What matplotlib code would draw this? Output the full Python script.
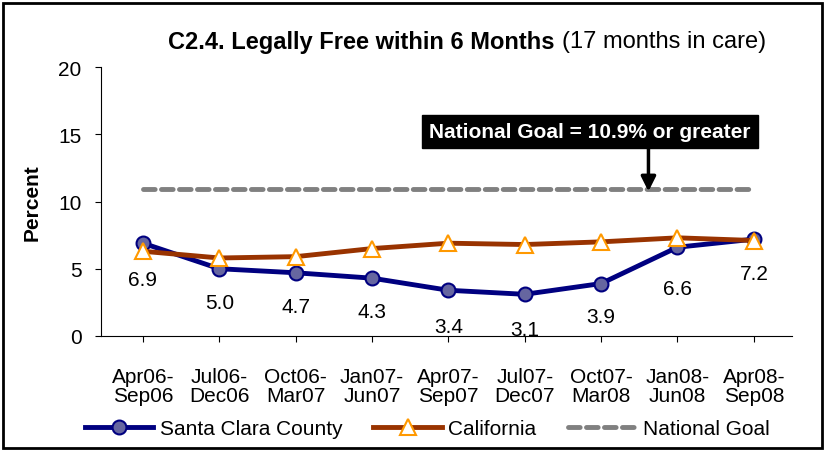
import matplotlib
matplotlib.use("Agg")
import matplotlib.pyplot as plt
from matplotlib.patches import Rectangle

plt.rcParams['font.family'] = ['Liberation Sans', 'DejaVu Sans']

categories = ["Apr06-\nSep06", "Jul06-\nDec06", "Oct06-\nMar07", "Jan07-\nJun07",
              "Apr07-\nSep07", "Jul07-\nDec07", "Oct07-\nMar08", "Jan08-\nJun08",
              "Apr08-\nSep08"]
santa_clara = [6.9, 5.0, 4.7, 4.3, 3.4, 3.1, 3.9, 6.6, 7.2]
california = [6.3, 5.8, 5.9, 6.5, 6.9, 6.8, 7.0, 7.3, 7.1]
national_goal = [10.9] * 9
yticks = [0, 5, 10, 15, 20]

# manual label offsets (points below marker)
label_offsets = [-26, -24, -24, -24, -26, -25, -24, -30, -25]

FS = 15
W, H = 826, 452
fig = plt.figure(figsize=(W/100, H/100), dpi=100)
ax = fig.add_axes([101/W, 1 - 337/H, (792-101)/W, (337-68)/H])

x = list(range(len(categories)))
ax.plot(x, national_goal, color='#808080', lw=3.5, dashes=(2.4, 1.3),
        dash_capstyle='round', label='National Goal', zorder=2)
ax.plot(x, santa_clara, color='#000080', lw=3.5, marker='o', ms=10,
        mfc='#6666A0', mec='#000080', mew=1.5, label='Santa Clara County', zorder=3)
ax.plot(x, california, color='#993300', lw=3.5, marker='^', ms=11,
        mfc='white', mec='#FF9900', mew=1.5, label='California', zorder=4)

for xi, v, off in zip(x, santa_clara, label_offsets):
    ax.annotate(f"{v:.1f}", (xi, v), xytext=(0, off), textcoords='offset points',
                ha='center', va='center', fontsize=FS, zorder=1)

ax.set_xlim(-0.55, 8.5)
ax.set_ylim(0, 20)
ax.set_yticks(yticks)
ax.set_xticks(x)
ax.set_xticklabels(categories, fontsize=FS, linespacing=1.05)
ax.tick_params(axis='x', length=4, pad=18)
ax.tick_params(axis='y', length=4, labelsize=FS, pad=10)
for s in ['top', 'right']:
    ax.spines[s].set_visible(False)
ax.spines['left'].set_linewidth(0.8)
ax.spines['bottom'].set_linewidth(0.8)
ax.set_ylabel('Percent', fontsize=FS, fontweight='bold', labelpad=12)

# Title (bold part + normal part)
fig.canvas.draw()
r = fig.canvas.get_renderer()
t1 = fig.text(0, 1 - 42/H, "C2.4. Legally Free within 6 Months ", fontsize=17,
              fontweight='bold', ha='left', va='center')
t2 = fig.text(0, 1 - 42/H, "(17 months in care)", fontsize=17,
              ha='left', va='center')
w1 = t1.get_window_extent(r).width
w2 = t2.get_window_extent(r).width
start = 467 - (w1 + w2) / 2
t1.set_x(start / W)
t2.set_x((start + w1) / W)

# Annotation box with arrow
ax.annotate("", xy=(6.62, 10.75), xytext=(6.62, 14.0),
            arrowprops=dict(arrowstyle='-|>', color='black', lw=2.5,
                            mutation_scale=22, shrinkA=0, shrinkB=0))
ax.text(5.85, 15.2, "National Goal = 10.9% or greater", fontsize=FS,
        fontweight='bold', color='white', ha='center', va='center',
        bbox=dict(boxstyle='square,pad=0.35', fc='black', ec='black'))

# Legend
handles, labels = ax.get_legend_handles_labels()
order = [1, 2, 0]
fig.legend([handles[i] for i in order], [labels[i] for i in order],
           loc='center', bbox_to_anchor=(0.517, 1 - 430/H), ncol=3,
           frameon=False, fontsize=FS, handlelength=3.3,
           columnspacing=1.5, handletextpad=0.3)

# Outer border
fig.patches.append(Rectangle((3/W, 3/H), 819/W, 445/H, transform=fig.transFigure,
                             fill=False, ec='black', lw=2))

fig.savefig("out.png", dpi=100)
